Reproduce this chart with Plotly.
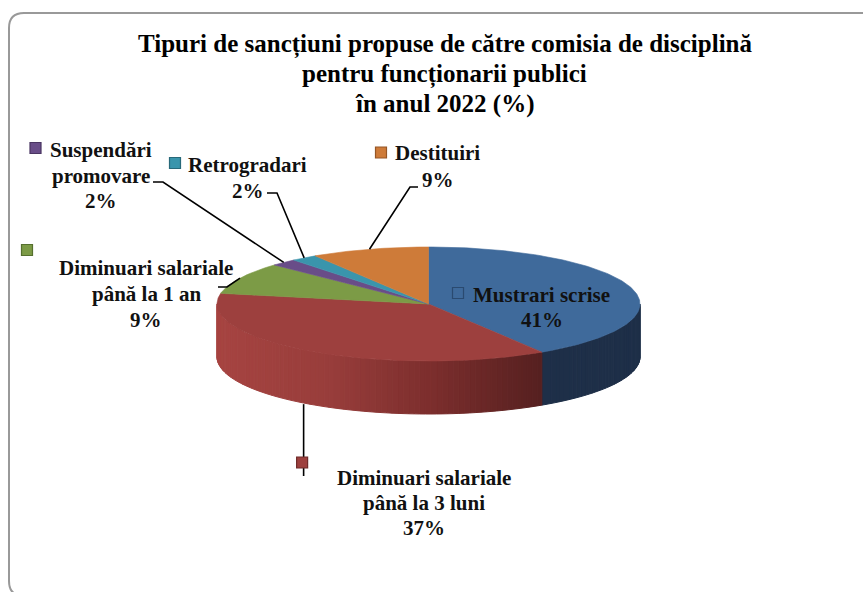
import math
import plotly.graph_objects as go

# ---- data ----
categories = [
    "Mustrari scrise",
    "Diminuari salariale până la 3 luni",
    "Diminuari salariale până la 1 an",
    "Suspendări promovare",
    "Retrogradari",
    "Destituiri",
]
label_lines = [
    ["Mustrari scrise"],
    ["Diminuari salariale", "până la 3 luni"],
    ["Diminuari salariale", "până la 1 an"],
    ["Suspendări", "promovare"],
    ["Retrogradari"],
    ["Destituiri"],
]
values = [41, 37, 9, 2, 2, 9]
title_lines = [
    "Tipuri de sancțiuni propuse de către comisia de disciplină",
    "pentru funcționarii publici",
    "în anul 2022 (%)",
]

# ---- styling ----
top_colors = ["#3F6A9B", "#9D403E", "#7C9B46", "#694D88", "#3A95AC", "#CE7B39"]
key_border = ["#2A4A70", "#6E2A29", "#56702F", "#4A3562", "#28697A", "#955626"]
FONT = "Liberation Serif, Times New Roman, serif"

W, H = 863, 592
CX, CY = 428.5, 304.0      # centre of the top face
RX, RY = 211.5, 57.0       # radii of the top ellipse
DEPTH = 53.0               # thickness of the disc


def pt(theta_deg, drop=0.0):
    t = math.radians(theta_deg)
    return CX + RX * math.cos(t), CY - RY * math.sin(t) + drop


def lerp(a, b, f):
    return a + (b - a) * f


def side_color(idx, x):
    if idx == 0:
        return "rgb(30,47,72)"
    # red wall: light on the left, darkening towards the right
    stops = [(217, (166, 68, 65)), (330, (152, 61, 59)), (430, (124, 46, 45)), (540, (86, 32, 32))]
    if x <= stops[0][0]:
        c = stops[0][1]
    elif x >= stops[-1][0]:
        c = stops[-1][1]
    else:
        for (x0, c0), (x1, c1) in zip(stops, stops[1:]):
            if x0 <= x <= x1:
                f = (x - x0) / (x1 - x0)
                c = tuple(lerp(a, b, f) for a, b in zip(c0, c1))
                break
    return "rgb(%d,%d,%d)" % tuple(int(round(v)) for v in c)


total = float(sum(values))
angles = []  # (start, end) going clockwise from 12 o'clock
a = 90.0
for v in values:
    sweep = 360.0 * v / total
    angles.append((a, a - sweep))
    a -= sweep

fig = go.Figure()

# ---- front wall of the disc ----
for i, (s, e) in enumerate(angles):
    lo, hi = max(e, -180.0), min(s, 0.0)
    if lo >= hi:
        continue
    n = max(2, int((hi - lo) / 1.5))
    for k in range(n):
        t0 = hi - (hi - lo) * k / n
        t1 = hi - (hi - lo) * (k + 1) / n
        p0, p1 = pt(t0), pt(t1)
        q1, q0 = pt(t1, DEPTH), pt(t0, DEPTH)
        col = side_color(i, (p0[0] + p1[0]) / 2)
        fig.add_trace(go.Scatter(
            x=[p0[0], p1[0], q1[0], q0[0], p0[0]],
            y=[p0[1], p1[1], q1[1], q0[1], p0[1]],
            mode="lines", fill="toself", fillcolor=col,
            line=dict(color=col, width=1), hoverinfo="skip", showlegend=False))

# ---- top faces ----
for i, (s, e) in enumerate(angles):
    n = max(3, int((s - e) / 1.0))
    xs, ys = [CX], [CY]
    for k in range(n + 1):
        px, py = pt(s - (s - e) * k / n)
        xs.append(px)
        ys.append(py)
    xs.append(CX)
    ys.append(CY)
    fig.add_trace(go.Scatter(
        x=xs, y=ys, mode="lines", fill="toself", fillcolor=top_colors[i],
        line=dict(color=top_colors[i], width=0.6), hoverinfo="skip",
        showlegend=False, name=categories[i]))

# ---- label placement (text centre x, first line y, line step, key square centre, elbow points) ----
label_layout = [
    dict(x=541.5, y=295, step=25, key=(458, 293), elbow=None),
    dict(x=424, y=478, step=25, key=None, elbow="down"),
    dict(x=146, y=268, step=26, key=(27, 250), elbow=[(218, 287), (227, 287)]),
    dict(x=101, y=150, step=25.5, key=(35.5, 148), elbow=[(153, 182), (163, 182)]),
    dict(x=247.5, y=165, step=26, key=(175, 163), elbow=[(267, 193), (277, 193)]),
    dict(x=437.5, y=153, step=27, key=(381, 152.5), elbow=[(418, 187), (410, 187)]),
]

annotations = []
shapes = []
for i, lay in enumerate(label_layout):
    lines = label_lines[i] + ["%d%%" % values[i]]
    for j, txt in enumerate(lines):
        annotations.append(dict(
            x=lay["x"], y=lay["y"] + j * lay["step"], xref="x", yref="y",
            text="<b>%s</b>" % txt, showarrow=False, xanchor="center", yanchor="middle",
            font=dict(family=FONT, size=21, color="#111111")))

    s, e = angles[i]
    mid = (s + e) / 2.0
    if lay["elbow"] == "down":
        ax, ay = pt(mid, DEPTH)
        ax = ax - 6
        path_x, path_y = [ax, ax], [ay, 476]
        key = (ax - 1.5, 462.5)
    elif lay["elbow"]:
        ax, ay = pt(mid)
        path_x = [p[0] for p in lay["elbow"]] + [ax]
        path_y = [p[1] for p in lay["elbow"]] + [ay]
        key = lay["key"]
    else:
        path_x = path_y = None
        key = lay["key"]
    if path_x:
        fig.add_trace(go.Scatter(
            x=path_x, y=path_y, mode="lines", line=dict(color="#000000", width=1.6),
            hoverinfo="skip", showlegend=False))
    if key:
        kx, ky = key
        shapes.append(dict(
            type="rect", xref="x", yref="y", x0=kx - 5.5, x1=kx + 5.5, y0=ky - 5.5, y1=ky + 5.5,
            fillcolor=top_colors[i], line=dict(color=key_border[i], width=1.2), layer="above"))

# ---- title ----
for j, (txt, ty) in enumerate(zip(title_lines, [44, 74, 104])):
    annotations.append(dict(
        x=444.5, y=ty, xref="x", yref="y", text="<b>%s</b>" % txt, showarrow=False,
        xanchor="center", yanchor="middle", font=dict(family=FONT, size=25, color="#000000")))

# ---- rounded frame ----
shapes.append(dict(
    type="path", xref="x", yref="y", layer="below",
    path="M 880,596 L 24,596 Q 9,596 9,581 L 9,28 Q 9,13 24,13 L 880,13",
    line=dict(color="#999999", width=2)))

fig.update_layout(
    width=W, height=H, margin=dict(l=0, r=0, t=0, b=0),
    paper_bgcolor="white", plot_bgcolor="white",
    xaxis=dict(range=[0, W], visible=False, fixedrange=True),
    yaxis=dict(range=[H, 0], visible=False, fixedrange=True),
    annotations=annotations, shapes=shapes, showlegend=False,
)

fig.write_html("out.html")
